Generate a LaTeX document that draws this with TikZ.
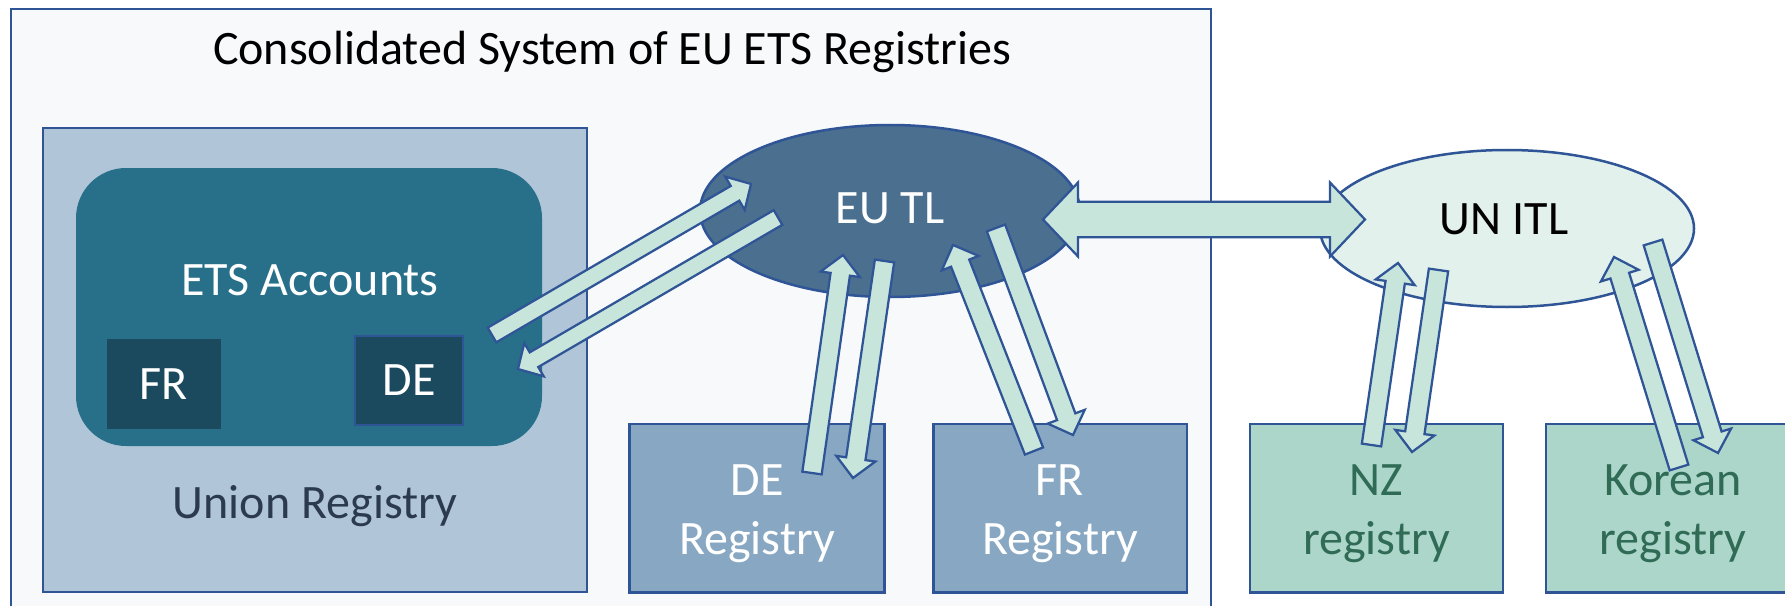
\documentclass[tikz,border=0pt]{standalone}
\usepackage{fontspec}
\setmainfont{Carlito}
\usetikzlibrary{calc,shapes.geometric}

\definecolor{edgeblue}{HTML}{2F5597}
\definecolor{systemfill}{HTML}{F7F9FB}
\definecolor{unionfill}{HTML}{B0C5D7}
\definecolor{uniontext}{HTML}{2B3A4F}
\definecolor{accountsfill}{HTML}{286F8A}
\definecolor{countryfill}{HTML}{1B4A5E}
\definecolor{eutlfill}{HTML}{4A6F8F}
\definecolor{eufill}{HTML}{87A7C2}
\definecolor{itlfill}{HTML}{E2F1EC}
\definecolor{otherfill}{HTML}{ADD6CB}
\definecolor{othertext}{HTML}{2F6B55}
\definecolor{arrowfill}{HTML}{C8E5DC}

% single block arrow: tail, tip, half shaft width, half head width, head length
\newcommand\flowarrow[5]{%
  \coordinate (fa-neck) at ($(#2)!#5!(#1)$);
  \draw[arrowbody]
    ($(#1)!#3!90:(#2)$) -- ($(fa-neck)!#3!90:(#2)$) -- ($(fa-neck)!#4!90:(#2)$)
    -- (#2)
    -- ($(fa-neck)!#4!-90:(#2)$) -- ($(fa-neck)!#3!-90:(#2)$) -- ($(#1)!#3!-90:(#2)$)
    -- cycle;}

% double-headed block arrow between two tips
\newcommand\linkarrow[5]{%
  \coordinate (la-neckA) at ($(#1)!#5!(#2)$);
  \coordinate (la-neckB) at ($(#2)!#5!(#1)$);
  \draw[arrowbody]
    (#1) -- ($(la-neckA)!#4!90:(#2)$) -- ($(la-neckA)!#3!90:(#2)$)
    -- ($(la-neckB)!#3!-90:(#1)$) -- ($(la-neckB)!#4!-90:(#1)$)
    -- (#2)
    -- ($(la-neckB)!#4!90:(#1)$) -- ($(la-neckB)!#3!90:(#1)$)
    -- ($(la-neckA)!#3!-90:(#2)$) -- ($(la-neckA)!#4!-90:(#2)$)
    -- cycle;}

\begin{document}
\begin{tikzpicture}[x=0.4pt, y=-0.4pt,
  every node/.style={inner sep=0pt, outer sep=0pt,
    font=\fontsize{19.2}{23.5}\selectfont},
  region/.style={draw=edgeblue, line width=1pt, rectangle},
  sized/.style 2 args={minimum width={#1*0.4pt}, minimum height={#2*0.4pt}},
  regtext/.style={align=center},
  arrowbody/.style={draw=edgeblue, line width=0.9pt, fill=arrowfill, line join=miter}]

\useasboundingbox (0,0) rectangle (1785,606);
\clip (0,0) rectangle (1785,606);
\fill[white] (0,0) rectangle (1785,606);

% consolidated system frame
\node[region, fill=systemfill, sized={1200}{620}] (system) at (611,319) {};
\node[anchor=base] (systemtitle) at (612,65) {Consolidated System of EU ETS Registries};

% union registry with its accounts
\node[region, fill=unionfill, sized={544}{464}] (union) at (315,360) {};
\node[anchor=base, text=uniontext] (uniontitle) at (315,518) {Union Registry};
\node[fill=accountsfill, rounded corners=20pt, sized={466}{278}] (accounts) at (309,307) {};
\node[anchor=base, text=white] (accountstitle) at (310,295) {ETS Accounts};
\node[fill=countryfill, sized={114}{90}, text=white] (acctFR) at (164,384) {FR};
\node[fill=countryfill, draw=edgeblue, line width=1pt, sized={108}{89}, text=white] (acctDE) at (409,380.5) {DE};

% transaction logs
\node[ellipse, draw=edgeblue, line width=1pt, fill=eutlfill, sized={380}{172}] (eutl) at (890,211) {};
\node[anchor=base, text=white] (eutltitle) at (890,223) {EU TL};
\node[ellipse, draw=edgeblue, line width=1pt, fill=itlfill, sized={374}{157}] (unitl) at (1507,228.5) {};
\node[anchor=base, text=black] (unitltitle) at (1504,234) {UN ITL};

% national registries
\node[region, fill=eufill, sized={255}{168.5}] (deReg) at (757,508) {};
\node[region, fill=eufill, sized={253.5}{168.5}] (frReg) at (1060,508) {};
\node[region, fill=otherfill, sized={253}{168.5}] (nzReg) at (1376.5,508) {};
\node[region, fill=otherfill, sized={254}{168.5}] (krReg) at (1673,508) {};
\node[regtext, text=white] (deRegText) at (757,514) {DE\\Registry};
\node[regtext, text=white] (frRegText) at (1060,514) {FR\\Registry};
\node[regtext, text=othertext] (nzRegText) at (1376.5,514) {NZ\\registry};
\node[regtext, text=othertext] (krRegText) at (1673,514) {Korean\\registry};

% connector end points
\coordinate (acctOut) at (492,335);
\coordinate (eutlIn)  at (751,184);
\coordinate (eutlOut) at (778,217.5);
\coordinate (acctIn)  at (518,369);
\coordinate (deUpT)   at (812,473);
\coordinate (deUpH)   at (843,255);
\coordinate (deDnT)   at (884.5,261);
\coordinate (deDnH)   at (853,478);
\coordinate (frUpT)   at (1034,451);
\coordinate (frUpH)   at (953,245);
\coordinate (frDnT)   at (996,228);
\coordinate (frDnH)   at (1073,435);
\coordinate (nzUpT)   at (1371.5,445);
\coordinate (nzUpH)   at (1398,263);
\coordinate (nzDnT)   at (1438.5,270);
\coordinate (nzDnH)   at (1412,452);
\coordinate (krUpT)   at (1679,467.5);
\coordinate (krUpH)   at (1614,257);
\coordinate (krDnT)   at (1653,242.5);
\coordinate (krDnH)   at (1718,453);
\coordinate (linkA)   at (1043,219.5);
\coordinate (linkB)   at (1365,219.5);

% message flows
\flowarrow{acctOut}{eutlIn}{3.4pt}{7.7pt}{7.4pt}
\flowarrow{eutlOut}{acctIn}{3.4pt}{7.7pt}{7.4pt}
\flowarrow{deUpT}{deUpH}{3.9pt}{7.9pt}{7.8pt}
\flowarrow{deDnT}{deDnH}{3.9pt}{7.9pt}{7.8pt}
\flowarrow{frUpT}{frUpH}{3.9pt}{7.9pt}{7.8pt}
\flowarrow{frDnT}{frDnH}{3.9pt}{7.9pt}{7.8pt}
\flowarrow{nzUpT}{nzUpH}{3.9pt}{7.9pt}{7.8pt}
\flowarrow{nzDnT}{nzDnH}{3.9pt}{7.9pt}{7.8pt}
\flowarrow{krUpT}{krUpH}{3.9pt}{7.9pt}{7.8pt}
\flowarrow{krDnT}{krDnH}{3.9pt}{7.9pt}{7.8pt}
\linkarrow{linkA}{linkB}{7.1pt}{14.8pt}{14pt}
\end{tikzpicture}
\end{document}
